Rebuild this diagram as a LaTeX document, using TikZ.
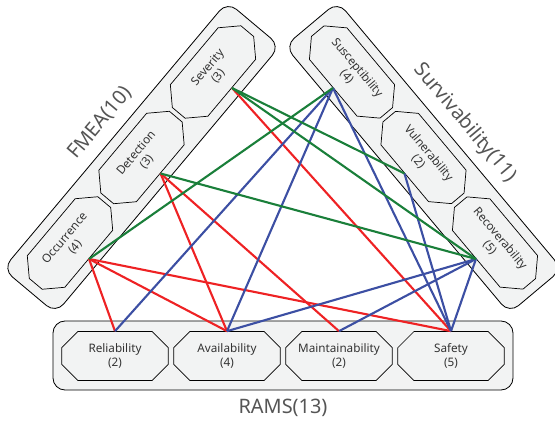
\documentclass[tikz,border=0pt]{standalone}
\usepackage{fontspec}
\setmainfont{Noto Sans}
\usetikzlibrary{shapes.misc}

\definecolor{boxgray}{HTML}{F2F3F3}
\definecolor{textgray}{HTML}{333333}
\definecolor{titlegray}{HTML}{555555}
\definecolor{linkred}{HTML}{EE2224}
\definecolor{linkgreen}{HTML}{1A7F3A}
\definecolor{linkblue}{HTML}{3C4FA3}

\tikzset{
  grp/.style={draw=black, line width=0.7pt, fill=boxgray, rounded corners=0.36cm,
    minimum width=10.47cm, minimum height=2.07cm, inner sep=0pt},
  crit/.style={chamfered rectangle, chamfered rectangle xsep=0.4cm, draw=black,
    line width=0.6pt, fill=boxgray, text=textgray, align=center, inner sep=0pt,
    minimum width=3.2cm, minimum height=1.47cm, font=\fontsize{10}{11.5}\selectfont},
  grptitle/.style={text=titlegray, font=\fontsize{17}{20}\selectfont, inner sep=0pt},
  redlink/.style={draw=linkred, line width=1.8pt},
  greenlink/.style={draw=linkgreen, line width=1.8pt},
  bluelink/.style={draw=linkblue, line width=1.8pt}
}

\begin{document}
\begin{tikzpicture}
\useasboundingbox (0,0) rectangle (16.65,12.69);

\node [grp, rotate=50] (fmea) at (4.245,7.965) {};
\node [grp, rotate=-50] (surv) at (12.705,7.965) {};
\node [grp, minimum width=13.8cm] (rams) at (8.49,2.025) {};

\node [grptitle, rotate=50] (fmeat) at (3.0,9.0) {FMEA(10)};
\node [grptitle, rotate=-50] (survt) at (13.95,9.0) {Survivability(11)};
\node [grptitle] (ramst) at (8.49,0.45) {RAMS(13)};

\node [crit, rotate=50] (occ) at (2.1,5.4) {Occurrence\\(4)};
\node [crit, rotate=50] (det) at (4.245,7.965) {Detection\\(3)};
\node [crit, rotate=50] (sev) at (6.39,10.53) {Severity\\(3)};
\node [crit, rotate=-50] (sus) at (10.56,10.53) {Susceptibility\\(4)};
\node [crit, rotate=-50] (vul) at (12.705,7.965) {Vulnerability\\(2)};
\node [crit, rotate=-50] (rec) at (14.85,5.4) {Recoverability\\(5)};
\node [crit] (rel) at (3.45,2.01) {Reliability\\(2)};
\node [crit] (ava) at (6.81,2.01) {Availability\\(4)};
\node [crit] (mai) at (10.17,2.01) {Maintainability\\(2)};
\node [crit] (saf) at (13.53,2.01) {Safety\\(5)};

\draw [redlink] (occ.south) -- (rel.north);
\draw [redlink] (occ.south) -- (ava.north);
\draw [redlink] (occ.south) -- (saf.north);
\draw [redlink] (det.south) -- (ava.north);
\draw [redlink] (det.south) -- (mai.north);
\draw [redlink] (sev.south) -- (saf.north);

\draw [bluelink] (sus.south) -- (rel.north);
\draw [bluelink] (sus.south) -- (ava.north);
\draw [bluelink] (sus.south) -- (saf.north);
\draw [bluelink] (vul.south) -- (saf.north);
\draw [bluelink] (rec.south) -- (ava.north);
\draw [bluelink] (rec.south) -- (mai.north);
\draw [bluelink] (rec.south) -- (saf.north);

\draw [greenlink] (occ.south) -- (sus.south);
\draw [greenlink] (det.south) -- (rec.south);
\draw [greenlink] (sev.south) -- (vul.south);
\draw [greenlink] (sev.south) -- (rec.south);
\end{tikzpicture}
\end{document}
